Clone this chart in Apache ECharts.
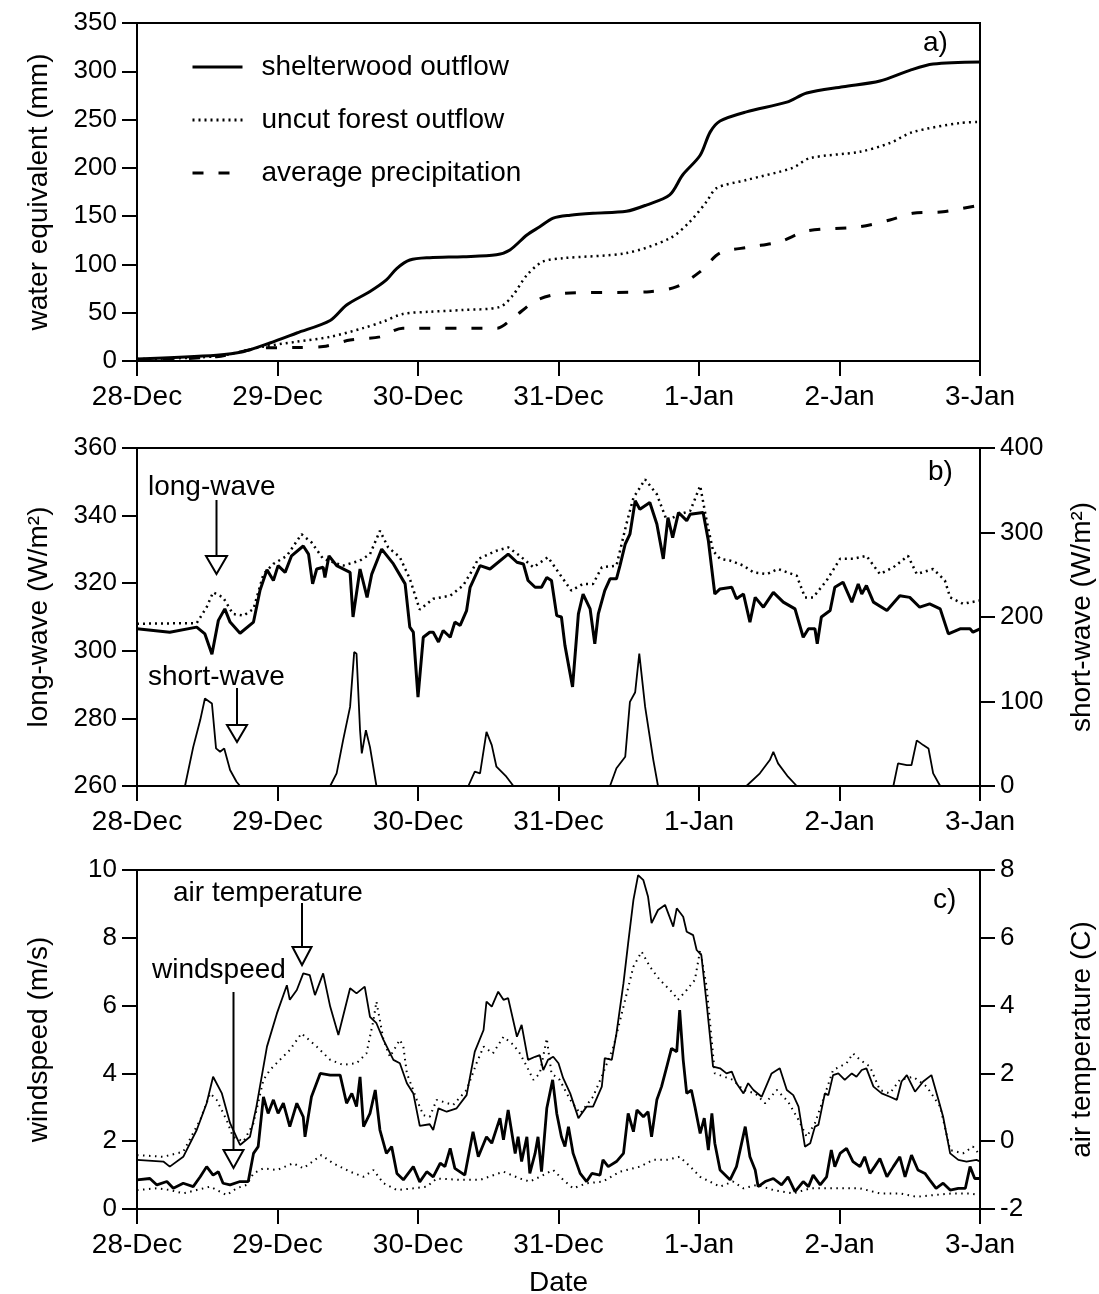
<!DOCTYPE html>
<html><head><meta charset="utf-8">
<script src="https://cdn.jsdelivr.net/npm/echarts/dist/echarts.min.js"></script>
<style>html,body{margin:0;padding:0;background:#fff}#c{width:1099px;height:1294px}</style>
</head><body><div id="c"></div>
<script>
// x values: hours since 28-Dec 00:00
const dateLabels = ['28-Dec','29-Dec','30-Dec','31-Dec','1-Jan','2-Jan','3-Jan'];

// ---- panel a: cumulative water equivalent (mm)
const shelterOutflow = [[0,2],[13.6,6],[18.1,9.6],[22.7,18.6],[27.3,29],[33.0,42],[35.8,58],[39.8,72],[42.6,84],[44.4,96],[46.6,104.6],[50.0,107],[55.7,108],[61.4,110],[63.7,115],[66.6,130.5],[68.8,139],[71.1,148],[74.0,151],[77.9,153],[83.6,155],[87.0,161.5],[91.0,172],[93.2,192.6],[96.2,213],[97.9,237],[99.6,248.5],[104.1,258],[111.0,268],[114.4,277.5],[120.6,284],[126.9,290],[132.0,301],[136.0,307.5],[144,309.6]];
const uncutOutflow = [[0,2],[13.6,5],[21.5,14.8],[27.3,20],[33.0,25],[38.6,34],[42.0,40.7],[45.4,48.7],[50.0,51],[55.7,52.8],[62.0,56],[64.2,68],[66.6,89],[69.3,102.8],[72.8,106.5],[83.6,111.8],[91.0,127],[94.4,144],[97.3,165],[99.0,179],[104.1,187.4],[112.0,200],[114.9,210],[123.5,216.7],[128.6,225.7],[132.5,237],[140.6,246.5],[144,247.5]];
const avgPrecip = [[0,1],[13.6,4.5],[21.5,13.5],[27.3,14],[31.8,15],[36.4,21.7],[41.5,25],[45.4,34],[61.5,34],[64.2,44.5],[68.3,63],[72.8,70],[87.6,71.8],[92.2,77],[96.2,92.5],[99.6,111.8],[104.7,118],[109.8,123.5],[114.4,134.6],[123.5,139],[128.6,146],[132.5,153],[137.7,154.6],[144,161.5]];

// ---- panel b: radiation (W/m2)
const longwaveShelter = [[0,306.5],[5.6,305.5],[10.2,307],[11.6,305],[12.8,299],[13.9,309],[15.0,312.4],[15.9,308.5],[17.6,305.2],[19.9,308.5],[21.0,317.8],[22.2,324],[23.3,320.8],[24.1,325.2],[25.3,323.2],[26.4,328.1],[28.4,331],[29.3,328.6],[30.0,319.8],[30.7,324.2],[31.8,324.7],[32.1,321.7],[32.8,328.1],[34.1,325.2],[36.4,323.2],[36.9,310],[38.1,324.2],[39.3,315.8],[40.1,322.7],[41.8,330.1],[43.8,325.7],[45.8,319.8],[46.6,307],[47.2,305.5],[48.0,286.3],[48.9,304],[50.0,305.5],[50.6,305.5],[51.5,302.6],[52.3,306],[53.5,304],[54.3,308.5],[55.2,307.5],[56.3,311.9],[56.9,318.8],[58.6,325.2],[60.3,324.2],[63.4,328.6],[64.9,326.2],[66.0,325.7],[66.8,320.8],[68.0,318.8],[69.1,318.8],[70.0,321.7],[70.8,320.8],[71.7,310.4],[72.5,310],[73.1,301.6],[74.4,289.3],[75.4,310.9],[76.2,316.8],[77.4,312.4],[78.2,302.1],[78.8,310.9],[79.9,317.8],[80.8,321.3],[81.9,321.3],[82.5,325.2],[83.4,331.6],[84.2,334.5],[85.1,344.4],[85.9,341.9],[87.6,343.9],[88.8,337.5],[89.9,327.2],[90.7,339.4],[91.5,333.5],[92.5,340.9],[93.9,338.5],[94.5,340.4],[96.7,340.9],[97.6,332.6],[98.7,316.8],[99.6,318.3],[101.6,318.8],[102.4,315.4],[103.6,316.8],[104.7,308.5],[105.6,315.8],[107.0,312.9],[108.7,317.3],[110.4,314.4],[112.4,312.4],[113.8,304],[114.7,306.5],[115.8,306.5],[116.2,302.1],[116.9,310],[118.4,311.9],[119.2,318.8],[120.6,320.3],[122.1,314.4],[123.2,319.8],[123.8,316.8],[124.6,319.3],[125.8,314.4],[128.1,311.9],[130.3,316.3],[132.0,315.8],[133.7,312.9],[135.4,313.9],[137.2,312.4],[138.6,305],[140.6,306.5],[142.3,306.5],[142.8,305.5],[144,306.5]];
const longwaveUncut = [[0,308],[10.2,308.2],[11.9,312.9],[13.0,317.3],[14.7,315.8],[16.4,310.9],[18.2,310.4],[19.9,312.4],[21.6,322.7],[23.3,325.7],[25.6,328.1],[28.1,334.5],[29.8,332.1],[31.8,327.2],[35.2,325.2],[38.1,326.7],[39.8,328.6],[41.5,335.5],[42.9,330.6],[44.9,327.7],[46.6,321.3],[48.3,312.2],[50.6,315.4],[53.5,316.3],[55.7,319.3],[56.9,322.7],[58.3,327.2],[61.4,329.6],[63.4,330.6],[65.4,328.1],[67.7,324.7],[70.2,327.7],[72.2,322.7],[74.2,317.8],[76.2,319.8],[77.9,319.8],[79.4,324.7],[81.9,325.2],[83.6,337.5],[84.8,345.3],[86.8,350.7],[88.8,346.3],[90.5,338.5],[92.7,340.4],[94.5,341.4],[96.2,348.8],[97.3,338.5],[98.4,329.6],[99.6,327.2],[101.3,326.7],[103.6,325.2],[105.3,323.2],[107.6,322.7],[109.5,324.2],[112.7,322.2],[114.1,315.8],[115.5,315.8],[117.8,320.8],[120.1,327.2],[122.3,327.2],[124.6,328.1],[126.9,322.7],[129.2,324.7],[131.7,328.1],[133.2,322.7],[136.0,324.2],[138.0,320.8],[138.9,315.8],[141.1,313.9],[144,314.9]];
const shortwave = [[0,0],[8.2,0],[9.6,46],[10.8,78],[11.6,103.5],[12.8,97.6],[13.5,44.5],[14.2,40.5],[14.9,44.5],[15.9,18.9],[17.0,5],[17.6,0],[33.0,0],[34.1,15],[35.2,54],[36.4,93.6],[37.1,158.5],[37.5,156.6],[38.1,66],[38.4,38.6],[39.1,66],[39.8,46],[40.9,0],[56.6,0],[57.7,17],[58.6,15],[59.7,64],[60.6,48.4],[61.4,22.8],[63.1,11],[64.3,0],[80.8,0],[81.9,21],[83.4,34.6],[84.2,99.5],[85.1,111],[85.8,156.6],[86.8,93.6],[88.2,30.7],[89.0,0],[104.1,0],[106.4,15],[108.1,30.7],[108.7,40.5],[109.5,26.8],[111.2,11],[112.7,0],[129.2,0],[130.0,26.8],[131.5,24.8],[132.3,24.8],[133.2,54],[134.3,48.4],[135.2,44.5],[136.0,15],[137.2,0],[144,0]];

// ---- panel c: windspeed (m/s) and air temperature (C)
const airTempShelter = [[0,-0.55],[4.5,-0.6],[5.6,-0.75],[7.9,-0.46],[10.2,0.33],[11.9,1.12],[13.0,1.9],[14.5,1.41],[15.9,0.53],[17.6,-0.11],[19.3,0.13],[20.4,1.02],[22.2,2.79],[23.9,3.77],[25.6,4.6],[26.1,4.17],[27.3,4.46],[28.4,4.95],[29.5,4.9],[30.4,4.31],[31.8,4.95],[33.0,3.97],[34.4,3.13],[36.4,4.51],[37.5,4.36],[38.9,4.56],[39.8,3.67],[40.9,3.48],[42.1,2.99],[43.8,2.4],[44.9,2.3],[46.1,1.71],[47.2,1.41],[48.3,0.45],[50.0,0.5],[50.6,0.33],[51.5,0.97],[52.9,0.87],[54.6,0.97],[56.3,1.36],[57.7,2.64],[59.2,3.28],[59.7,4.12],[60.6,3.97],[61.7,4.41],[62.6,4.17],[63.4,4.22],[64.9,3.08],[65.7,3.43],[66.8,2.4],[68.0,2.49],[68.8,2.54],[69.4,2.1],[70.2,2.4],[71.1,2.49],[72.0,2.3],[72.8,1.86],[74.0,1.41],[75.4,0.68],[76.8,1.02],[77.9,1.02],[79.4,1.61],[79.9,2.45],[81.1,2.4],[81.9,3.18],[83.1,4.66],[83.9,5.84],[84.8,7.12],[85.6,7.85],[86.5,7.7],[87.3,7.21],[87.9,6.43],[89.0,6.82],[90.2,6.97],[91.6,6.33],[92.2,6.87],[93.3,6.62],[93.9,6.18],[95.0,6.08],[95.6,5.64],[96.4,5.49],[97.3,4.07],[98.4,2.2],[99.6,2.15],[100.7,2.0],[101.6,2.05],[102.4,1.71],[103.6,1.41],[104.4,1.71],[105.3,1.51],[106.7,1.31],[108.4,2.0],[109.8,2.15],[111.0,1.51],[112.1,1.36],[113.0,1.02],[114.1,-0.16],[115.0,-0.06],[115.8,0.43],[116.4,0.48],[117.5,1.41],[118.1,1.36],[118.9,1.95],[119.8,2.0],[120.9,1.81],[122.1,2.0],[122.9,1.9],[123.8,2.1],[124.6,2.15],[125.8,1.61],[127.2,1.41],[128.6,1.31],[129.8,1.22],[130.6,1.76],[131.5,1.95],[132.9,1.46],[134.3,1.76],[135.7,1.95],[136.9,1.22],[137.7,0.72],[138.9,-0.36],[140.3,-0.55],[141.7,-0.6],[143.4,-0.55],[144,-0.6]];
const airTempUncut = [[0,-0.41],[4.5,-0.46],[7.9,-0.31],[10.8,0.63],[12.5,1.41],[13.6,1.22],[15.3,0.63],[16.4,0.13],[18.2,-0.01],[19.9,0.53],[21.6,1.81],[22.7,2.1],[24.4,2.4],[26.1,2.69],[28.1,3.18],[30.7,2.79],[33.0,2.4],[35.2,2.25],[37.5,2.3],[39.2,2.59],[40.4,3.58],[40.9,4.12],[42.1,2.99],[43.2,2.49],[44.9,2.99],[45.5,2.79],[46.1,2.0],[47.8,1.22],[48.9,0.77],[50.0,0.72],[51.2,1.22],[54.0,1.07],[56.3,1.51],[58.0,2.3],[59.2,2.79],[60.8,2.59],[62.6,3.08],[64.3,2.84],[65.4,2.59],[66.6,2.2],[67.7,1.81],[68.8,2.0],[70.0,3.03],[70.8,2.0],[72.2,1.81],[74.0,1.22],[75.7,0.82],[77.9,1.31],[79.6,2.0],[81.4,2.79],[83.1,3.97],[84.8,5.15],[86.2,5.59],[87.6,5.15],[89.3,4.76],[91.6,4.36],[92.4,4.17],[93.9,4.46],[95.3,4.76],[96.2,5.64],[97.3,4.56],[98.7,2.0],[101.8,1.81],[103.6,1.51],[105.6,1.41],[107.3,1.12],[109.3,1.51],[111.2,1.17],[113.0,0.63],[114.4,0.13],[115.8,0.53],[117.2,1.22],[118.9,2.1],[121.2,2.3],[122.3,2.59],[123.5,2.4],[125.2,2.2],[126.9,1.51],[128.6,1.41],[130.3,1.81],[132.6,1.9],[134.9,1.61],[137.2,1.02],[138.9,-0.26],[141.1,-0.36],[142.8,-0.16],[144,-0.41]];
const windShelter = [[0,0.86],[2.2,0.9],[3.4,0.71],[5.1,0.81],[6.2,0.61],[7.9,0.76],[9.6,0.66],[10.8,0.95],[11.9,1.25],[13.0,1.0],[13.9,1.1],[14.7,0.76],[15.9,0.71],[17.6,0.81],[19.0,0.81],[19.9,1.64],[20.7,1.84],[21.6,3.31],[22.4,2.82],[23.3,3.22],[24.1,2.82],[25.0,3.12],[26.1,2.43],[27.3,3.12],[28.4,2.72],[28.7,2.13],[29.8,3.31],[31.3,4.0],[33.0,3.95],[34.7,3.95],[35.8,3.12],[36.7,3.41],[37.5,3.02],[38.1,3.9],[38.7,2.43],[39.8,2.82],[40.7,3.51],[41.5,2.33],[42.6,1.64],[43.5,1.84],[44.4,1.05],[45.5,0.86],[47.2,1.25],[48.3,0.8],[49.5,1.1],[50.6,0.95],[51.8,1.35],[52.6,1.25],[53.5,1.79],[54.3,1.2],[56.0,1.0],[57.4,2.28],[58.3,1.54],[59.7,2.13],[60.6,1.94],[62.0,2.68],[62.6,2.04],[63.4,2.92],[64.6,1.64],[65.1,2.13],[65.7,1.4],[66.6,2.13],[67.1,1.05],[68.0,1.64],[68.5,2.13],[69.1,1.1],[70.0,2.97],[71.0,3.81],[71.7,2.82],[72.5,2.13],[73.1,1.84],[73.7,2.43],[74.5,1.64],[75.7,1.05],[76.8,0.81],[77.7,1.05],[79.1,1.0],[79.6,1.45],[80.5,1.25],[81.9,1.4],[83.1,1.64],[83.9,2.82],[84.8,2.28],[85.4,2.92],[86.5,2.72],[87.3,2.87],[87.9,2.13],[88.8,3.22],[89.6,3.61],[90.5,4.2],[91.3,4.74],[92.2,4.64],[92.7,5.87],[93.3,4.4],[93.9,3.41],[94.7,3.51],[95.3,3.02],[96.2,2.23],[96.9,2.68],[97.6,1.74],[98.2,2.82],[98.7,1.94],[99.6,1.15],[101.3,0.86],[102.4,1.25],[103.9,2.43],[104.7,1.54],[105.6,1.15],[106.1,0.66],[107.3,0.81],[108.7,0.9],[110.1,0.71],[111.2,0.95],[112.4,0.51],[113.8,0.81],[114.7,0.66],[115.5,1.0],[116.7,0.71],[117.8,0.95],[118.6,1.74],[119.2,1.25],[120.1,1.64],[121.2,1.79],[122.3,1.4],[123.5,1.25],[124.3,1.54],[125.2,1.05],[126.0,1.25],[126.9,1.49],[128.1,0.95],[129.2,1.25],[130.3,1.54],[131.2,0.95],[132.3,1.59],[133.4,1.15],[134.6,1.05],[135.4,0.86],[136.5,0.61],[137.7,0.76],[138.9,0.56],[140.3,0.61],[141.5,0.61],[142.3,1.25],[143.1,0.9],[144,0.9]];
const windUncut = [[0,0.56],[3.4,0.61],[5.6,0.56],[7.9,0.46],[10.2,0.56],[12.5,0.66],[15.3,0.41],[17.0,0.61],[18.7,0.71],[19.9,1.05],[21.6,1.2],[23.9,1.15],[26.7,1.35],[28.4,1.2],[31.5,1.59],[33.5,1.35],[36.4,1.1],[38.7,0.95],[40.4,1.15],[42.1,0.76],[44.4,0.56],[47.2,0.61],[49.5,0.66],[51.2,0.9],[55.2,0.86],[58.6,0.86],[62.6,1.1],[65.4,0.9],[67.1,0.81],[68.8,0.95],[71.1,1.15],[72.8,0.86],[74.5,0.61],[76.8,0.76],[79.6,0.81],[82.5,1.1],[85.9,1.25],[88.2,1.45],[90.5,1.45],[92.7,1.54],[94.5,1.25],[96.2,0.95],[98.4,0.76],[99.6,0.66],[101.8,0.81],[103.6,0.61],[105.9,0.71],[108.7,0.56],[112.1,0.46],[115.0,0.61],[117.8,0.61],[120.6,0.61],[123.5,0.61],[126.9,0.46],[130.3,0.46],[133.2,0.36],[136.0,0.41],[139.4,0.46],[142.3,0.46],[144,0.41]];

const FONT = '"Liberation Sans", Arial, Helvetica, sans-serif';
const BLACK = '#000';

function xAxis(gi, name) {
  return {
    gridIndex: gi, type: 'value', min: 0, max: 144, interval: 24,
    axisLine: { show: true, onZero: false, lineStyle: { color: BLACK, width: 2 } },
    axisTick: { show: true, inside: false, length: 15, lineStyle: { color: BLACK, width: 2 } },
    axisLabel: { color: BLACK, fontSize: 28, fontFamily: FONT, margin: 22, showMinLabel: true, showMaxLabel: true,
      formatter: v => dateLabels[Math.round(v / 24)] },
    splitLine: { show: false },
    name: name || '', nameLocation: 'middle', nameGap: 60,
    nameTextStyle: { color: BLACK, fontSize: 28, fontFamily: FONT }
  };
}
function yAxis(gi, min, max, interval, name, pos, gap) {
  return {
    gridIndex: gi, type: 'value', min, max, interval, position: pos,
    axisLine: { show: true, onZero: false, lineStyle: { color: BLACK, width: 2 } },
    axisTick: { show: true, inside: false, length: 15, lineStyle: { color: BLACK, width: 2 } },
    axisLabel: { color: BLACK, fontSize: 26, fontFamily: FONT, margin: 20, showMinLabel: true, showMaxLabel: true },
    splitLine: { show: false },
    name, nameLocation: 'middle', nameGap: gap, nameRotate: 90,
    nameTextStyle: { color: BLACK, fontSize: 28, fontFamily: FONT }
  };
}
function line(name, data, xi, yi, width, type, extra) {
  return Object.assign({
    name, type: 'line', data, xAxisIndex: xi, yAxisIndex: yi,
    symbol: 'none', showSymbol: false, animation: false,
    lineStyle: { color: BLACK, width, type },
    itemStyle: { color: BLACK }
  }, extra || {});
}

function arrow(x, y1, y2, half, tip) {
  return [
    { type: 'line', shape: { x1: x, y1: y1, x2: x, y2: y2 }, style: { stroke: BLACK, lineWidth: 2 }, z: 100 },
    { type: 'polygon', shape: { points: [[x - half, y2], [x + half, y2], [x, tip]] }, style: { fill: '#fff', stroke: BLACK, lineWidth: 2 }, z: 100 }
  ];
}
function label(text, x, y, size) {
  return { type: 'text', x, y, z: 100, style: { text, fill: BLACK, fontSize: size || 28, fontFamily: FONT, align: 'left', verticalAlign: 'middle' } };
}

const gridBase = { left: 137, width: 843, show: true, borderColor: BLACK, borderWidth: 2, containLabel: false, outerBoundsMode: 'none' };

const chart = echarts.init(document.getElementById('c'), null, { renderer: 'canvas' });
chart.setOption({
  backgroundColor: '#fff',
  animation: false,
  textStyle: { fontFamily: FONT },
  grid: [
    Object.assign({ top: 23, height: 338 }, gridBase),
    Object.assign({ top: 448, height: 338 }, gridBase),
    Object.assign({ top: 870, height: 339 }, gridBase)
  ],
  legend: {
    data: ['shelterwood outflow', 'uncut forest outflow', 'average precipitation'],
    orient: 'vertical', left: 186, top: 48, itemWidth: 50, itemHeight: 20, itemGap: 25,
    textStyle: { color: BLACK, fontSize: 28, fontFamily: FONT, padding: [0, 0, 0, 14] },
    itemStyle: { color: 'rgba(0,0,0,0)', borderColor: 'rgba(0,0,0,0)', borderWidth: 0, opacity: 0 },
    lineStyle: { width: 3 },
    selectedMode: false
  },
  xAxis: [xAxis(0), xAxis(1), xAxis(2, 'Date')],
  yAxis: [
    yAxis(0, 0, 350, 50, 'water equivalent (mm)', 'left', 84),
    yAxis(1, 260, 360, 20, 'long-wave (W/m²)', 'left', 84),
    yAxis(1, 0, 400, 100, 'short-wave (W/m²)', 'right', 88),
    yAxis(2, 0, 10, 2, 'windspeed (m/s)', 'left', 84),
    yAxis(2, -2, 8, 2, 'air temperature (C)', 'right', 88)
  ],
  series: [
    line('shelterwood outflow', shelterOutflow, 0, 0, 3, 'solid', { smooth: 0.3 }),
    line('uncut forest outflow', uncutOutflow, 0, 0, 2.5, [2, 4], { smooth: 0.3 }),
    line('average precipitation', avgPrecip, 0, 0, 3, [11, 15], { smooth: 0.3 }),
    line('long-wave shelterwood', longwaveShelter, 1, 1, 3, 'solid'),
    line('long-wave uncut', longwaveUncut, 1, 1, 2.5, [2, 4]),
    line('short-wave', shortwave, 1, 2, 1.8, 'solid'),
    line('air temperature shelterwood', airTempShelter, 2, 4, 1.8, 'solid'),
    line('air temperature uncut', airTempUncut, 2, 4, 2, [1.5, 4.5]),
    line('windspeed shelterwood', windShelter, 2, 3, 2.8, 'solid'),
    line('windspeed uncut', windUncut, 2, 3, 2, [1.5, 4.5])
  ],
  graphic: [
    label('a)', 923, 43),
    label('b)', 928, 472),
    label('c)', 933, 900),
    label('long-wave', 148, 487),
    label('short-wave', 148, 677),
    label('air temperature', 173, 893),
    label('windspeed', 152, 970),
    ...arrow(216.5, 500, 556, 10.5, 574),
    ...arrow(237, 688, 725, 10, 742),
    ...arrow(302, 903, 947, 9.5, 965),
    ...arrow(233.5, 992, 1150, 10, 1168)
  ]
});
</script>
</body></html>
